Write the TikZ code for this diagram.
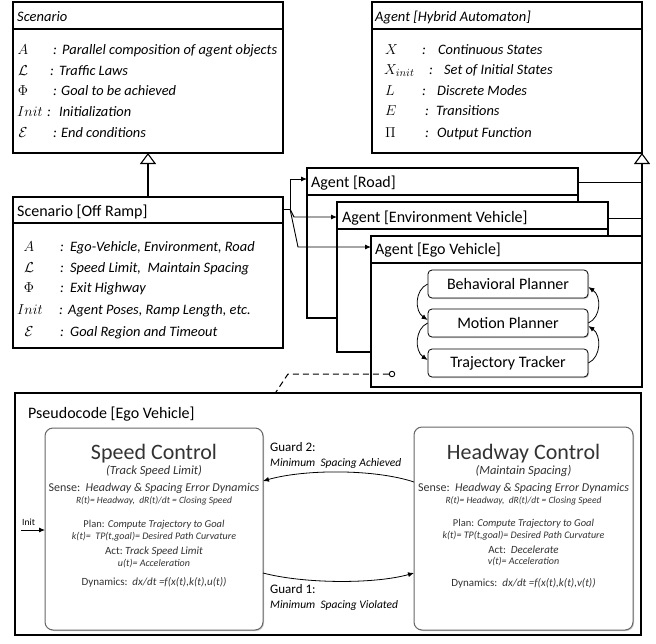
\documentclass[tikz,border=0pt]{standalone}
\usepackage{fontspec}
\setmainfont{Carlito}
\usetikzlibrary{arrows.meta,shadows,calc}
\begin{document}
\begin{tikzpicture}[x=1pt,y=-1pt,
  umlbox/.style={draw=black, line width=1.1pt, fill=white, inner sep=0pt, outer sep=0pt, anchor=north west,
     drop shadow={shadow xshift=1.3pt, shadow yshift=-1.3pt, fill=black!40, opacity=0.6}},
  sepline/.style={line width=1.1pt},
  sym/.style={anchor=base, font=\fontsize{15}{17}\selectfont},
  col/.style={anchor=base, font=\fontsize{14.4}{16}\selectfont\itshape},
  lbl/.style={anchor=base west, inner xsep=0pt, font=\fontsize{14.4}{16}\selectfont\itshape},
  hdr/.style={anchor=base west, inner xsep=0pt, font=\fontsize{16}{18}\selectfont},
  ihdr/.style={anchor=base west, inner xsep=0pt, font=\fontsize{14.5}{17}\selectfont\itshape},
  plbox/.style={draw=black, line width=0.8pt, fill=white, rounded corners=4pt, minimum width=160pt, minimum height=28pt,
     inner sep=0pt, font=\fontsize{16}{18}\selectfont, drop shadow={shadow xshift=1pt, shadow yshift=-1pt, fill=black!40, opacity=0.5}},
  ctrl/.style={draw=black!60, line width=1pt, fill=white, rounded corners=8pt, inner sep=0pt, outer sep=0pt, anchor=north west,
     drop shadow={shadow xshift=1pt, shadow yshift=-1pt, fill=black!40, opacity=0.5}},
  pt/.style={anchor=base, text=black!80},
  tip/.style={-{Latex[length=6pt,width=5pt]}, line width=0.8pt},
  gen/.style={-{Triangle[open,length=11pt,width=16pt,fill=white]}, line width=1.1pt},
]
\useasboundingbox (0,0) rectangle (656,643);

% ---------- Scenario (abstract) ----------
\node[umlbox, minimum width=270pt, minimum height=151pt] (scn) at (13,2) {};
\draw[sepline] ($(scn.north west)+(0,27)$) -- ($(scn.north east)+(0,27)$);
\node[ihdr] (scnh) at (17,21) {Scenario};
\node[sym] (s1a) at (23,54) {$A$};
\node[col] (s1b) at (55,54) {:};
\node[lbl] (s1c) at (62,54) {Parallel composition of agent objects};
\node[sym] (s2a) at (23,75) {$\mathcal{L}$};
\node[col] (s2b) at (52,75) {:};
\node[lbl] (s2c) at (59,75) {Traffic Laws};
\node[sym] (s3a) at (23,95) {$\Phi$};
\node[col] (s3b) at (55,95) {:};
\node[lbl] (s3c) at (61,95) {Goal to be achieved};
\node[sym] (s4a) at (30,116) {$Init$};
\node[col] (s4b) at (49,116) {:};
\node[lbl] (s4c) at (59,116) {Initialization};
\node[sym] (s5a) at (23,137) {$\mathcal{E}$};
\node[col] (s5b) at (55,137) {:};
\node[lbl] (s5c) at (61,137) {End conditions};

% ---------- Agent (Hybrid Automaton) ----------
\node[umlbox, minimum width=270pt, minimum height=151pt] (ha) at (372,2) {};
\draw[sepline] ($(ha.north west)+(0,27)$) -- ($(ha.north east)+(0,27)$);
\node[ihdr] (hah) at (375,21) {Agent [Hybrid Automaton]};
\node[sym, anchor=base west, inner xsep=0pt] (h1a) at (385,54) {$X$};
\node[col] (h1b) at (424,54) {:};
\node[lbl] (h1c) at (438,54) {Continuous States};
\node[sym, anchor=base west, inner xsep=0pt] (h2a) at (384,74) {$X_{init}$};
\node[col] (h2b) at (431,74) {:};
\node[lbl] (h2c) at (444,74) {Set of Initial States};
\node[sym, anchor=base west, inner xsep=0pt] (h3a) at (385,95) {$L$};
\node[col] (h3b) at (424,95) {:};
\node[lbl] (h3c) at (437,95) {Discrete Modes};
\node[sym, anchor=base west, inner xsep=0pt] (h4a) at (385,115) {$E$};
\node[col] (h4b) at (427,115) {:};
\node[lbl] (h4c) at (436,115) {Transitions};
\node[sym, anchor=base west, inner xsep=0pt] (h5a) at (385,137) {$\Pi$};
\node[col] (h5b) at (427,137) {:};
\node[lbl] (h5c) at (437,137) {Output Function};

% ---------- Scenario [Off Ramp] ----------
\node[umlbox, minimum width=270pt, minimum height=151pt] (scr) at (13,197) {};
\draw[sepline] ($(scr.north west)+(0,26)$) -- ($(scr.north east)+(0,26)$);
\node[hdr] (scrh) at (17,216) {Scenario [Off Ramp]};
\node[sym] (r1a) at (29,251) {$A$};
\node[col] (r1b) at (62,251) {:};
\node[lbl] (r1c) at (70,251) {Ego-Vehicle, Environment, Road};
\node[sym] (r2a) at (29,272) {$\mathcal{L}$};
\node[col] (r2b) at (62,272) {:};
\node[lbl] (r2c) at (70,272) {Speed Limit,\ \ Maintain Spacing};
\node[sym] (r3a) at (29,292) {$\Phi$};
\node[col] (r3b) at (62,292) {:};
\node[lbl] (r3c) at (70,292) {Exit Highway};
\node[sym] (r4a) at (30,314) {$Init$};
\node[col] (r4b) at (61,314) {:};
\node[lbl] (r4c) at (68,314) {Agent Poses, Ramp Length, etc.};
\node[sym] (r5a) at (29,336) {$\mathcal{E}$};
\node[col] (r5b) at (62,336) {:};
\node[lbl] (r5c) at (70,336) {Goal Region and Timeout};

\draw[gen] (scr.north) -- (scn.south);

% ---------- Agent boxes ----------
\node[umlbox, minimum width=271pt, minimum height=150pt] (road) at (307,168) {};
\draw[sepline] ($(road.north west)+(0,27)$) -- ($(road.north east)+(0,27)$);
\node[hdr] (roadh) at (311,187) {Agent [Road]};

\node[umlbox, minimum width=271pt, minimum height=150pt] (env) at (337,202) {};
\draw[sepline] ($(env.north west)+(0,27)$) -- ($(env.north east)+(0,27)$);
\node[hdr] (envh) at (342,222) {Agent [Environment Vehicle]};

\node[umlbox, minimum width=271pt, minimum height=151pt] (ego) at (371,236) {};
\draw[sepline] ($(ego.north west)+(0,27)$) -- ($(ego.north east)+(0,27)$);
\node[hdr] (egoh) at (375,254) {Agent [Ego Vehicle]};

\node[plbox] (bp) at (508,284) {Behavioral Planner};
\node[plbox] (mp) at (508,323) {Motion Planner};
\node[plbox] (tt) at (508,363) {Trajectory Tracker};

\draw[tip] (bp.west) .. controls ($(bp.west)+(-13,6)$) and ($(mp.west)+(-13,-12)$) .. ($(mp.west)+(0,-3)$);
\draw[tip] (mp.west) .. controls ($(mp.west)+(-13,6)$) and ($(tt.west)+(-13,-12)$) .. ($(tt.west)+(0,-3)$);
\draw[tip] (tt.east) .. controls ($(tt.east)+(13,-6)$) and ($(mp.east)+(13,12)$) .. ($(mp.east)+(0,3)$);
\draw[tip] (mp.east) .. controls ($(mp.east)+(13,-6)$) and ($(bp.east)+(13,12)$) .. ($(bp.east)+(0,3)$);

% connectors from Scenario [Off Ramp]
\coordinate (j) at (290,209);
\coordinate (jenv) at (294,217);
\coordinate (jego) at (298,247);
\draw[line width=0.9pt] ($(scr.north east)+(0,12)$) -- (j);
\draw[tip, line width=0.9pt] (j) |- ($(road.north west)+(0,11)$);
\draw[tip, line width=0.9pt] (j) -- (jenv) -- (jenv -| env.west);
\draw[tip, line width=0.9pt] (j) -- (jego) -- (jego -| ego.west);

% generalization to Agent
\draw[line width=0.9pt] ($(road.north east)+(0,14)$) -- ($(road.north east)+(64,14)$);
\draw[line width=0.9pt] ($(env.north east)+(0,16)$) -- ($(env.north east)+(34,16)$);
\draw[gen] (ego.north east) -- (ha.south east);

% dashed link
\node[draw, circle, line width=0.9pt, fill=white, minimum size=5.5pt, inner sep=0pt] (circ) at (392,374) {};
\coordinate (dk) at (288,374);
\coordinate (dend) at (260,416);
\draw[line width=1pt, dash pattern=on 6pt off 4pt] (circ.west) -- (dk) -- (dend);

% ---------- Pseudocode ----------
\node[umlbox, minimum width=626pt, minimum height=242pt] (pc) at (15,393) {};
\node[hdr] (pch) at (28,418) {Pseudocode [Ego Vehicle]};

\node[ctrl, minimum width=218pt, minimum height=202pt] (spd) at (45,428) {};
\node[ctrl, minimum width=219pt, minimum height=203pt] (hw) at (414,427) {};

% Speed Control text
\node[pt, font=\fontsize{22}{25}\selectfont] (sp1) at (154,459) {Speed Control};
\node[pt, font=\fontsize{12.5}{14}\selectfont\itshape] (sp2) at (154,474) {(Track Speed Limit)};
\node[pt, font=\fontsize{12}{14}\selectfont] (sp3) at (154,491) {Sense:\ \ \textit{Headway \& Spacing Error Dynamics}};
\node[pt, font=\fontsize{9.5}{12}\selectfont\itshape] (sp4) at (154,503) {R(t)= Headway,\ \ dR(t)/dt = Closing Speed};
\node[pt, font=\fontsize{10.5}{12}\selectfont] (sp5) at (154,527) {Plan: \textit{Compute Trajectory to Goal}};
\node[pt, font=\fontsize{10}{12}\selectfont\itshape] (sp6) at (154,539) {k(t)=\ \ TP(t,goal)= Desired Path Curvature};
\node[pt, font=\fontsize{11}{13}\selectfont] (sp7) at (154,554) {Act:\ \textit{Track Speed Limit}};
\node[pt, font=\fontsize{10}{12}\selectfont\itshape] (sp8) at (154,566) {u(t)= Acceleration};
\node[pt, font=\fontsize{11}{13}\selectfont] (sp9) at (154,585) {Dynamics:\ \ \textit{dx/dt =f(x(t),k(t),u(t))}};

% Headway Control text
\node[pt, font=\fontsize{22}{25}\selectfont] (hw1) at (523.5,459) {Headway Control};
\node[pt, font=\fontsize{12.5}{14}\selectfont\itshape] (hw2) at (523.5,474) {(Maintain Spacing)};
\node[pt, font=\fontsize{12}{14}\selectfont] (hw3) at (523.5,491) {Sense:\ \ \textit{Headway \& Spacing Error Dynamics}};
\node[pt, font=\fontsize{9.5}{12}\selectfont\itshape] (hw4) at (523.5,503) {R(t)= Headway,\ \ dR(t)/dt = Closing Speed};
\node[pt, font=\fontsize{10.5}{12}\selectfont] (hw5) at (523.5,526) {Plan: \textit{Compute Trajectory to Goal}};
\node[pt, font=\fontsize{10}{12}\selectfont\itshape] (hw6) at (523.5,538) {k(t)= TP(t,goal)= Desired Path Curvature};
\node[pt, font=\fontsize{11}{13}\selectfont] (hw7) at (523.5,553) {Act:\ \ \textit{Decelerate}};
\node[pt, font=\fontsize{10}{12}\selectfont\itshape] (hw8) at (523.5,564) {v(t)= Acceleration};
\node[pt, font=\fontsize{11}{13}\selectfont] (hw9) at (523.5,586) {Dynamics:\ \ \textit{dx/dt =f(x(t),k(t),v(t))}};

% Guards
\node[anchor=base west, inner xsep=0pt, font=\fontsize{13}{15}\selectfont] (g2a) at (270,451) {Guard 2:};
\node[anchor=base west, inner xsep=0pt, font=\fontsize{11.5}{14}\selectfont\itshape] (g2b) at (270,466) {Minimum\ \ Spacing Achieved};
\node[anchor=base west, inner xsep=0pt, font=\fontsize{13}{15}\selectfont] (g1a) at (270,593) {Guard 1:};
\node[anchor=base west, inner xsep=0pt, font=\fontsize{11.5}{14}\selectfont\itshape] (g1b) at (270,608) {Minimum\ \ Spacing Violated};

\draw[tip] ($(hw.north west)+(0,55)$) .. controls (375,469) and (305,469) .. ($(spd.north east)+(0,53)$);
\draw[tip] ($(spd.north east)+(0,145)$) .. controls (305,584) and (375,584) .. ($(hw.north west)+(0,146)$);

% Init
\node[anchor=base west, inner xsep=0pt, font=\fontsize{9.5}{11}\selectfont] (init) at (22,525) {Init};
\coordinate (ini0) at (21,530);
\draw[tip] (ini0) -- (ini0 -| spd.west);
\end{tikzpicture}
\end{document}
